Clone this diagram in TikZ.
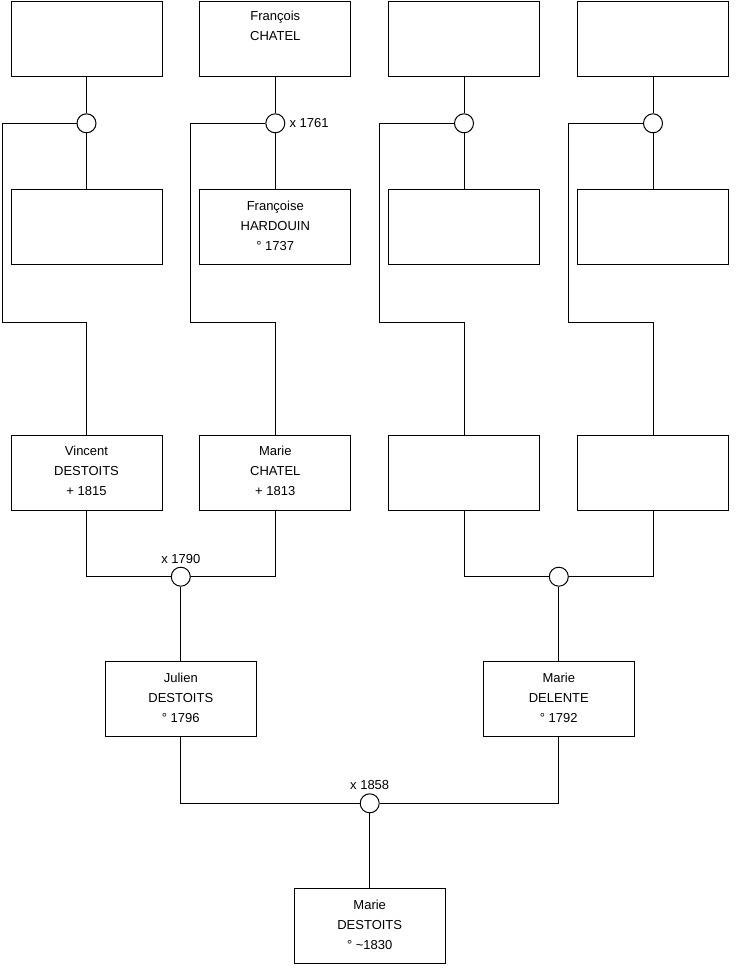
\documentclass[tikz,border=0pt]{standalone}
\usepackage{fontspec}
\setmainfont{Liberation Sans}
\usetikzlibrary{positioning}

\begin{document}
\begin{tikzpicture}[
  x=1pt, y=-1pt,
  person/.style={rectangle, draw, line width=1pt, minimum width=151pt, minimum height=75pt, inner sep=0pt},
  who/.style={anchor=north, yshift=-11.5pt, inner sep=0pt, align=center, font=\fontsize{13}{20}\selectfont},
  union/.style={circle, draw, line width=1pt, fill=white, minimum size=19pt, inner sep=0pt},
  link/.style={line width=1pt},
  date/.style={font=\fontsize{13}{16}\selectfont, inner sep=1pt}
]
  \useasboundingbox (0,0) rectangle (740,975);

  \node[person] (gp1) at (86.5,38.5) {};
  \node[person, label={[who, yshift=1.5pt]north:{François\\CHATEL}}] (gp2) at (275.3,38.5) {};
  \node[person] (gp3) at (464,38.5) {};
  \node[person] (gp4) at (653,38.5) {};

  \node[union] (u1) at (86.5,123.3) {};
  \node[union, label={[date, label distance=3pt]east:x 1761}] (u2) at (275.3,123.3) {};
  \node[union] (u3) at (464,123.3) {};
  \node[union] (u4) at (653,123.3) {};

  \node[person] (gm1) at (86.5,227) {};
  \node[person, label={[who]north:{Françoise\\HARDOUIN\\° 1737}}] (gm2) at (275.3,227) {};
  \node[person] (gm3) at (464,227) {};
  \node[person] (gm4) at (653,227) {};

  \node[person, label={[who]north:{Vincent\\DESTOITS\\+ 1815}}] (vincent) at (86.5,472.7) {};
  \node[person, label={[who]north:{Marie\\CHATEL\\+ 1813}}] (mchatel) at (275.3,472.7) {};
  \node[person] (p3) at (464,472.7) {};
  \node[person] (p4) at (653,472.7) {};

  \node[union, label={[date, label distance=2pt]north:x 1790}] (uA) at (180.8,576.7) {};
  \node[union] (uB) at (558.8,576.7) {};

  \node[person, label={[who]north:{Julien\\DESTOITS\\° 1796}}] (julien) at (180.8,699.3) {};
  \node[person, label={[who]north:{Marie\\DELENTE\\° 1792}}] (delente) at (558.8,699.3) {};

  \node[union, label={[date, label distance=2pt]north:x 1858}] (uC) at (369.7,803.3) {};

  \node[person, label={[who]north:{Marie\\DESTOITS\\° \textasciitilde1830}}] (marie) at (369.7,926) {};

  \draw[link] (gp1) -- (u1);
  \draw[link] (u1) -- (gm1);
  \draw[link] (gp2) -- (u2);
  \draw[link] (u2) -- (gm2);
  \draw[link] (gp3) -- (u3);
  \draw[link] (u3) -- (gm3);
  \draw[link] (gp4) -- (u4);
  \draw[link] (u4) -- (gm4);

  \draw[link] (u1.west) -| (2,322) -| (vincent.north);
  \draw[link] (u2.west) -| (190.7,322) -| (mchatel.north);
  \draw[link] (u3.west) -| (379.3,322) -| (p3.north);
  \draw[link] (u4.west) -| (568.7,322) -| (p4.north);

  \draw[link] (vincent.south) |- (uA.west);
  \draw[link] (mchatel.south) |- (uA.east);
  \draw[link] (uA) -- (julien);
  \draw[link] (p3.south) |- (uB.west);
  \draw[link] (p4.south) |- (uB.east);
  \draw[link] (uB) -- (delente);

  \draw[link] (julien.south) |- (uC.west);
  \draw[link] (delente.south) |- (uC.east);
  \draw[link] (uC) -- (marie);
\end{tikzpicture}
\end{document}
